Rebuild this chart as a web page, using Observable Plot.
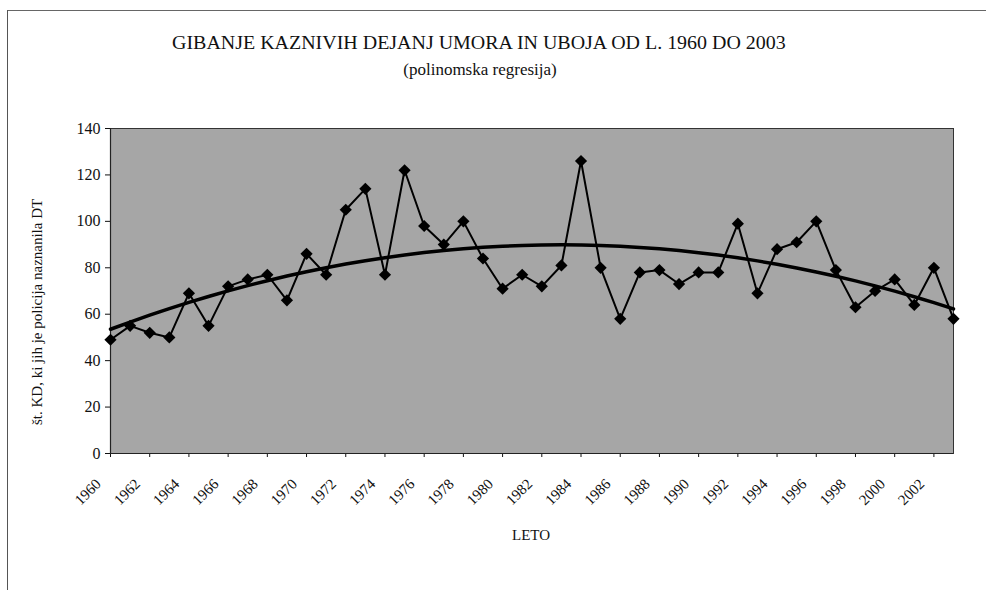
<!DOCTYPE html>
<html>
<head>
<meta charset="utf-8">
<script src="https://cdn.jsdelivr.net/npm/d3@7"></script>
<script src="https://cdn.jsdelivr.net/npm/@observablehq/plot@0.6"></script>
<style>
  html, body { margin: 0; padding: 0; background: #fff; }
  #wrap { position: relative; width: 986px; height: 590px; overflow: hidden; font-family: "Liberation Serif", "DejaVu Serif", "Times New Roman", Times, serif; color: #111; }
  .frameTop { position: absolute; left: 7px; top: 10px; width: 979px; height: 0; border-top: 1.5px solid #666; }
  .frameLeft { position: absolute; left: 7px; top: 10px; width: 0; height: 580px; border-left: 1.5px solid #555; }
  .title { position: absolute; top: 33px; white-space: nowrap; font-size: 19px; line-height: 19px; transform-origin: 0 0; }
  .subtitle { position: absolute; top: 61px; white-space: nowrap; font-size: 17px; line-height: 17px; }
  .ylabel { position: absolute; white-space: nowrap; font-size: 15px; line-height: 15px; transform-origin: 0 0; transform: rotate(-90deg); }
  .xlabel { position: absolute; white-space: nowrap; font-size: 15px; line-height: 15px; }
  #chart { position: absolute; left: 0; top: 100px; }
  #chart svg text { font-family: "Liberation Serif", "DejaVu Serif", "Times New Roman", Times, serif; }
</style>
</head>
<body>
<div id="wrap">
  <div class="frameTop"></div>
  <div class="frameLeft"></div>
  <div class="title" id="title">GIBANJE KAZNIVIH DEJANJ UMORA IN UBOJA OD L. 1960 DO 2003</div>
  <div class="subtitle" id="subtitle">(polinomska regresija)</div>
  <div class="ylabel" id="ylabel">št. KD, ki jih je policija naznanila DT</div>
  <div class="xlabel" id="xlabel">LETO</div>
  <div id="chart"></div>
</div>
<script>
// ---- data ----
const years = d3.range(1960, 2004);
const counts = [
  49, 55, 52, 50, 69, 55, 72, 75, 77, 66,
  86, 77, 105, 114, 77, 122, 98, 90, 100, 84,
  71, 77, 72, 81, 126, 80, 58, 78, 79, 73,
  78, 78, 99, 69, 88, 91, 100, 79, 63, 70,
  75, 64, 80, 58
];
const yTicks = [0, 20, 40, 60, 80, 100, 120, 140];
const xTicks = d3.range(1960, 2003, 2);
const titleText = "GIBANJE KAZNIVIH DEJANJ UMORA IN UBOJA OD L. 1960 DO 2003";
const subtitleText = "(polinomska regresija)";
const yLabelText = "št. KD, ki jih je policija naznanila DT";
const xLabelText = "LETO";

const data = years.map((year, i) => ({year, value: counts[i]}));

// ---- 2nd order polynomial regression (least squares) of the data ----
function polyFit2(xs, ys) {
  const x0 = d3.mean(xs);
  let S = [0,0,0,0,0], T = [0,0,0];
  xs.forEach((x, i) => {
    const t = x - x0;
    for (let k = 0; k < 5; k++) S[k] += Math.pow(t, k);
    for (let k = 0; k < 3; k++) T[k] += ys[i] * Math.pow(t, k);
  });
  const A = [[S[0],S[1],S[2],T[0]],[S[1],S[2],S[3],T[1]],[S[2],S[3],S[4],T[2]]];
  for (let c = 0; c < 3; c++) {
    for (let r = c + 1; r < 3; r++) {
      const f = A[r][c] / A[c][c];
      for (let k = c; k < 4; k++) A[r][k] -= f * A[c][k];
    }
  }
  const b = [0,0,0];
  for (let r = 2; r >= 0; r--) {
    let s = A[r][3];
    for (let k = r + 1; k < 3; k++) s -= A[r][k] * b[k];
    b[r] = s / A[r][r];
  }
  return x => { const t = x - x0; return b[0] + b[1]*t + b[2]*t*t; };
}
const fit = polyFit2(years, counts);
const trend = years.map(year => ({year, value: fit(year)}));

const serif = "'Liberation Serif', 'DejaVu Serif', 'Times New Roman', Times, serif";

// ---- chart ----
const chart = Plot.plot({
  width: 986,
  height: 490,
  marginLeft: 110,
  marginRight: 33,
  marginTop: 28,
  marginBottom: 137,
  style: {fontFamily: serif, color: "#111", background: "transparent"},
  x: {domain: [1960, 2003], label: null},
  y: {domain: [0, 140], label: null},
  marks: [
    Plot.frame({fill: "#a6a6a6", stroke: "#333", strokeWidth: 1}),
    Plot.axisY({ticks: yTicks, tickSize: 5, label: null, fontSize: 16, tickPadding: 5}),
    // tick marks only
    Plot.axisX({ticks: xTicks, tickFormat: () => "", tickSize: 4, label: null}),
    // rotated labels only, shifted down-left like the reference
    Plot.axisX({ticks: xTicks, tickFormat: d => String(d), tickRotate: -45, tickSize: 0, label: null, fontSize: 15, tickPadding: 8, dx: -12, dy: 20}),
    Plot.ruleY([0], {stroke: "#222", strokeWidth: 1.2}),
    Plot.ruleX([1960], {stroke: "#222", strokeWidth: 1.2}),
    Plot.line(data, {x: "year", y: "value", stroke: "#000", strokeWidth: 2}),
    Plot.line(trend, {x: "year", y: "value", stroke: "#000", strokeWidth: 3.5, curve: "natural"}),
    Plot.dot(data, {x: "year", y: "value", symbol: "diamond2", r: 5.5, fill: "#000", stroke: "none"})
  ]
});
document.getElementById("chart").appendChild(chart);

// ---- texts ----
const ctx = document.createElement("canvas").getContext("2d");
ctx.font = "19px " + serif;
const tw = ctx.measureText(titleText).width;
const targetW = 616;
const sx = targetW / tw;
const title = document.getElementById("title");
title.style.transform = `scaleX(${sx})`;
title.style.left = (480 - targetW / 2) + "px";

const sub = document.getElementById("subtitle");
ctx.font = "17px " + serif;
sub.style.left = (480 - ctx.measureText(subtitleText).width / 2) + "px";

ctx.font = "15px " + serif;
const yl = document.getElementById("ylabel");
const ylw = ctx.measureText(yLabelText).width;
yl.style.left = "30px";
yl.style.top = (312 + ylw / 2) + "px";

ctx.font = "15px " + serif;
const xl = document.getElementById("xlabel");
xl.style.left = (531 - ctx.measureText(xLabelText).width / 2) + "px";
xl.style.top = "528px";
</script>
</body>
</html>
